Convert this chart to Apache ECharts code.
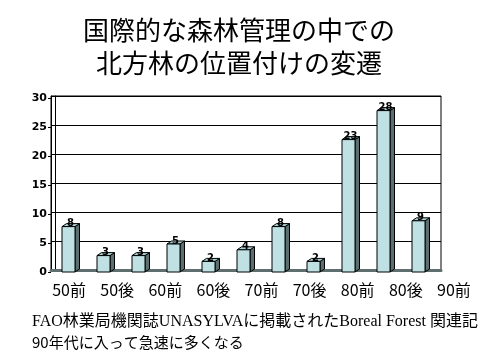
<!DOCTYPE html>
<html>
<head>
<meta charset="utf-8">
<script src="https://cdn.jsdelivr.net/npm/echarts@6/dist/echarts.min.js"></script>
<style>html,body{margin:0;padding:0;background:#fff;}#c{width:478px;height:359px;}</style>
</head>
<body>
<div id="c"></div>
<script>
const titleLines = ['国際的な森林管理の中での', '北方林の位置付けの変遷'];
const noteLines = ['FAO林業局機関誌UNASYLVAに掲載されたBoreal Forest 関連記事', '90年代に入って急速に多くなる'];
const barValues = [8, 3, 3, 5, 2, 4, 8, 2, 23, 28, 9];
const barCategories = barValues.map((_, i) => String(i + 1));
const tickLabels = ['50前', '50後', '60前', '60後', '70前', '70後', '80前', '80後', '90前'];
const yMin = 0, yMax = 30, yStep = 5;

const chart = echarts.init(document.getElementById('c'), null, {renderer: 'canvas'});

function renderBar(params, api) {
  const i = api.value(0), v = api.value(1);
  const top = api.coord([i, v]);
  const base = api.coord([i, 0]);
  const cx = top[0];
  const hw = 6.5, dx = 4.5, dy = 3;
  const x1 = cx - hw, x2 = cx + hw;
  const fy = top[1] + dy, by = base[1] + 2;
  return {
    type: 'group',
    children: [
      {type: 'polygon', shape: {points: [[x2, fy], [x2 + dx, fy - dy], [x2 + dx, by - dy], [x2, by]]},
        style: {fill: '#5b6f70', stroke: '#000', lineWidth: 1}},
      {type: 'polygon', shape: {points: [[x1, fy], [x1 + dx, fy - dy], [x2 + dx, fy - dy], [x2, fy]]},
        style: {fill: '#a8cfd2', stroke: '#000', lineWidth: 1}},
      {type: 'rect', shape: {x: x1, y: fy, width: hw * 2, height: by - fy},
        style: {fill: '#bfe1e4', stroke: '#000', lineWidth: 1}},
      {type: 'text', style: {text: String(v), x: cx + 2, y: top[1], align: 'center', verticalAlign: 'middle',
        font: 'bold 10px "DejaVu Sans"', fill: '#000'}}
    ]
  };
}

const option = {
  animation: false,
  backgroundColor: '#fff',
  title: [
    {
      text: titleLines.join('\n'),
      left: 'center', top: 9,
      textStyle: {fontFamily: '"Noto Sans CJK JP"', fontSize: 26, fontWeight: 'normal', color: '#000', lineHeight: 33}
    },
    {
      text: '{a|' + noteLines[0] + '}\n{b|' + noteLines[1] + '}',
      left: 27, top: 307,
      textStyle: {
        fontWeight: 'normal',
        rich: {
          a: {fontFamily: '"Liberation Serif", "Noto Sans CJK JP"', fontSize: 16, fontWeight: 'normal', color: '#000', lineHeight: 20},
          b: {fontFamily: '"Noto Sans CJK JP"', fontSize: 15, fontWeight: 'normal', color: '#000', lineHeight: 20}
        }
      }
    }
  ],
  grid: [
    {left: 51, right: 37, top: 96, bottom: 89, show: true, borderColor: '#000', borderWidth: 1, backgroundColor: 'transparent'},
    {left: 51, right: 42, top: 96, bottom: 89},
    {left: 45, width: 435, top: 279, height: 1},
    {left: 51, right: 37, top: 98.5, bottom: 86.5}
  ],
  xAxis: [
    {type: 'category', gridIndex: 0, data: barCategories, axisLabel: {show: false}, axisTick: {show: false},
      axisLine: {show: true, lineStyle: {color: '#5f6f6f', width: 3}}},
    {type: 'category', gridIndex: 1, data: barCategories, show: false},
    {type: 'category', gridIndex: 2, data: tickLabels, axisLine: {show: false}, axisTick: {show: false},
      axisLabel: {margin: 2, fontFamily: '"Noto Sans CJK JP"', fontSize: 16, color: '#000', interval: 0}},
    {type: 'category', gridIndex: 3, data: barCategories, show: false}
  ],
  yAxis: [
    {type: 'value', gridIndex: 0, min: yMin, max: yMax, interval: yStep,
      axisLine: {show: true, lineStyle: {color: '#000', width: 1}},
      axisTick: {show: false}, axisLabel: {show: false},
      splitLine: {show: true, lineStyle: {color: '#000', width: 1}}},
    {type: 'value', gridIndex: 0, min: yMin, max: yMax, interval: yStep, position: 'left', offset: -4,
      axisLine: {show: true, lineStyle: {color: '#000', width: 1}}, axisTick: {show: false}, axisLabel: {show: false}, splitLine: {show: false}},
    {type: 'value', gridIndex: 1, min: yMin, max: yMax, interval: yStep, show: false},
    {type: 'value', gridIndex: 2, show: false},
    {type: 'value', gridIndex: 3, min: yMin, max: yMax, interval: yStep,
      axisLine: {show: false},
      axisTick: {show: true, length: 3, lineStyle: {color: '#000'}},
      axisLabel: {margin: 4, fontFamily: '"DejaVu Sans"', fontWeight: 'bold', fontSize: 11, color: '#000'},
      splitLine: {show: false}}
  ],
  series: [
    {
      type: 'custom', xAxisIndex: 1, yAxisIndex: 2, renderItem: renderBar,
      data: barValues.map((v, i) => [i, v]), z: 5
    }
  ]
};
chart.setOption(option);
</script>
</body>
</html>
